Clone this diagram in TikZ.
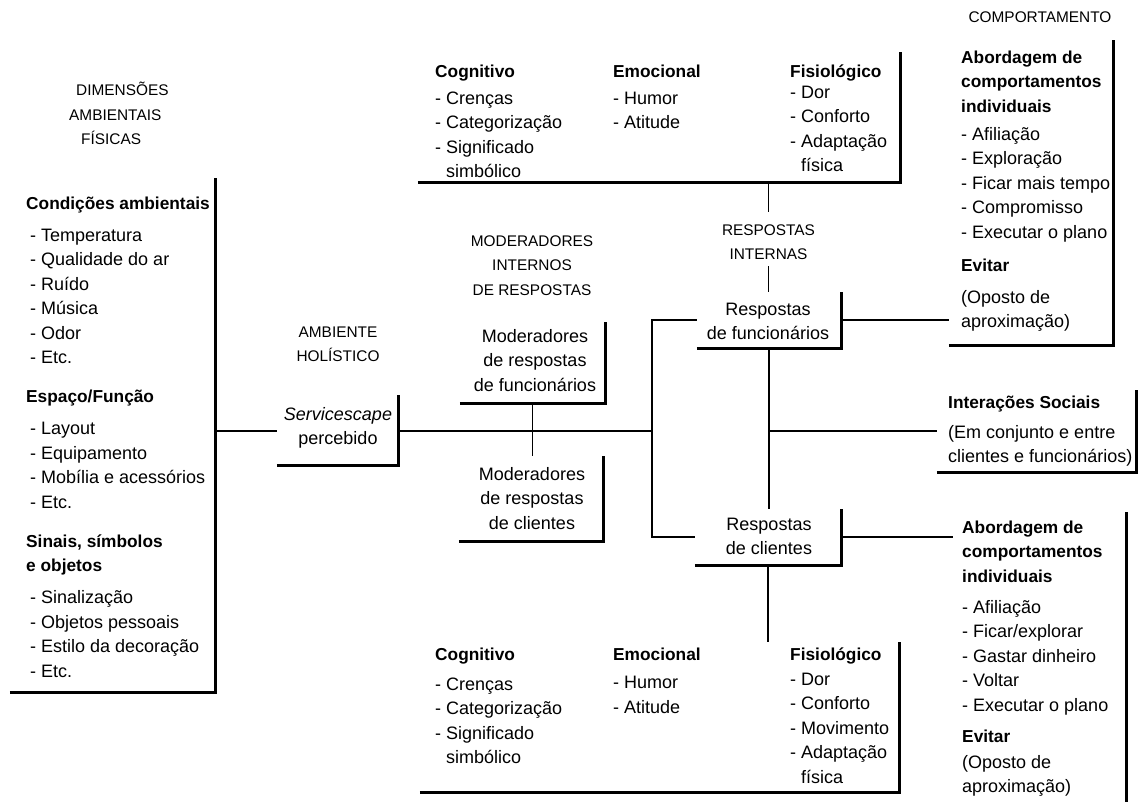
\documentclass[tikz,border=0pt]{standalone}
\usepackage{fontspec}
\setmainfont{Liberation Sans}
\usetikzlibrary{fit}
\newcommand\fl{\rule{0pt}{17pt}}
\newcommand\hb[1]{{\fontsize{17.3}{24.5}\selectfont\bfseries #1}}
\begin{document}
\begin{tikzpicture}[x=1pt,y=-1pt,
  txt/.style={inner sep=0pt, font=\fontsize{18}{24.5}\selectfont, align=left, anchor=north west},
  ctxt/.style={inner sep=0pt, font=\fontsize{18}{24.5}\selectfont, align=center, anchor=north},
  caplbl/.style={inner sep=0pt, font=\fontsize{15.4}{24.5}\selectfont, align=center, anchor=north},
  frm/.style={inner sep=0pt, draw=none},
  border/.style={line width=2.8pt, line join=miter, line cap=butt},
  conn/.style={line width=1.1pt}]
\useasboundingbox (0,0) rectangle (1138,802);

% ---------- frames (right and bottom edges) ----------
\node[frm, fit={(10,178) (215,692)}] (leftframe) {};
\node[frm, fit={(277,395) (398,465)}] (servframe) {};
\node[frm, fit={(460,322) (605,403)}] (modfframe) {};
\node[frm, fit={(459,456) (603,541)}] (modcframe) {};
\node[frm, fit={(697,292) (841,348)}] (rfframe) {};
\node[frm, fit={(695,509) (841,565)}] (rcframe) {};
\node[frm, fit={(418,52) (900,182)}] (topframe) {};
\node[frm, fit={(420,642) (899,792)}] (botframe) {};
\node[frm, fit={(949,40) (1113,345)}] (btopframe) {};
\node[frm, fit={(937,390) (1136,472)}] (socframe) {};
\node[frm, fit={(953,512) (1126,815)}] (bbotframe) {};
\foreach \f in {leftframe,servframe,modfframe,modcframe,rfframe,rcframe,topframe,botframe,btopframe,socframe,bbotframe}
  \draw[border] (\f.south west) -- (\f.south east) -- (\f.north east);

% ---------- labels ----------
\node[caplbl, align=left, anchor=north west] (dimlbl) at (69,78.5)
  {\fl\hspace*{7pt}DIMENSÕES\\AMBIENTAIS\\\hspace*{12pt}FÍSICAS};
\node[caplbl] (amblbl) at (338,320) {\fl AMBIENTE\\HOLÍSTICO};
\node[caplbl] (modlbl) at (532,229) {\fl MODERADORES\\INTERNOS\\DE RESPOSTAS};
\node[caplbl, inner ysep=6pt] (resint) at (768.5,212) {\fl RESPOSTAS\\INTERNAS};
\node[caplbl] (comlbl) at (1040,5.5) {\fl COMPORTAMENTO};

% ---------- left box ----------
\node[txt] (leftbox) at (26,192) {\fl\hb{Condições ambientais}\\[7.5pt]
\hspace*{4pt}- Temperatura\\
\hspace*{4pt}- Qualidade do ar\\
\hspace*{4pt}- Ruído\\
\hspace*{4pt}- Música\\
\hspace*{4pt}- Odor\\
\hspace*{4pt}- Etc.\\[14.5pt]
\hb{Espaço/Função}\\[7.5pt]
\hspace*{4pt}- Layout\\
\hspace*{4pt}- Equipamento\\
\hspace*{4pt}- Mobília e acessórios\\
\hspace*{4pt}- Etc.\\[14.5pt]
\hb{Sinais, símbolos}\\
\hb{e objetos}\\[7.5pt]
\hspace*{4pt}- Sinalização\\
\hspace*{4pt}- Objetos pessoais\\
\hspace*{4pt}- Estilo da decoração\\
\hspace*{4pt}- Etc.};

% ---------- middle texts ----------
\node[ctxt] (serv) at (338,403) {\fl\textit{Servicescape}\\percebido};
\node[ctxt] (modf) at (535,325) {\fl Moderadores\\de respostas\\de funcionários};
\node[ctxt] (modc) at (532,463) {\fl Moderadores\\de respostas\\de clientes};
\node[ctxt] (rf) at (768,298) {\fl Respostas\\de funcionários};
\node[ctxt] (rc) at (769,513) {\fl Respostas\\de clientes};

% ---------- top internal responses ----------
\node[txt] (tcog) at (435,60) {\fl\hb{Cognitivo}\\[2.5pt]- Crenças\\- Categorização\\- Significado\\\hspace*{11pt}simbólico};
\node[txt] (temo) at (613,60) {\fl\hb{Emocional}\\[2.5pt]- Humor\\- Atitude};
\node[txt] (tfis) at (790,60) {\fl\hb{Fisiológico}\\[-3.5pt]- Dor\\- Conforto\\- Adaptação\\\hspace*{11pt}física};

% ---------- bottom internal responses ----------
\node[txt] (bcog) at (435,643) {\fl\hb{Cognitivo}\\[5.5pt]- Crenças\\- Categorização\\- Significado\\\hspace*{11pt}simbólico};
\node[txt] (bemo) at (613,643) {\fl\hb{Emocional}\\[4pt]- Humor\\- Atitude};
\node[txt] (bfis) at (790,643) {\fl\hb{Fisiológico}\\[0.5pt]- Dor\\- Conforto\\- Movimento\\- Adaptação\\\hspace*{11pt}física};

% ---------- behaviour boxes ----------
\node[txt] (btop) at (961,46) {\fl\hb{Abordagem de}\\\hb{comportamentos}\\\hb{individuais}\\[3.5pt]
- Afiliação\\- Exploração\\- Ficar mais tempo\\- Compromisso\\- Executar o plano\\[8.5pt]
\hb{Evitar}\\[7.5pt](Oposto de\\aproximação)};
\node[txt] (soc) at (948,391) {\fl\hb{Interações Sociais}\\[5.5pt](Em conjunto e entre\\clientes e funcionários)};
\node[txt] (bbot) at (962,516) {\fl\hb{Abordagem de}\\\hb{comportamentos}\\\hb{individuais}\\[6.5pt]
- Afiliação\\- Ficar/explorar\\- Gastar dinheiro\\- Voltar\\- Executar o plano\\[6.5pt]
\hb{Evitar}\\[1.5pt](Oposto de\\aproximação)};

% ---------- connectors ----------
\coordinate (J) at (652,431);
\draw[conn] (leftframe.east |- J) -- (servframe.west |- J);
\draw[conn] (servframe.east |- J) -- (J);
\draw[conn] (rfframe.west) -| (J) |- (rcframe.west);
\draw[conn] (modfframe.south) -- (modfframe.south |- modcframe.north);
\draw[conn] (resint.north |- topframe.south) -- (resint.north);
\draw[conn] (resint.south) -- (resint.south |- rfframe.north);
\draw[conn] (rfframe.south) -- (rfframe.south |- rcframe.north);
\draw[conn] (rfframe.south |- socframe.west) -- (socframe.west);
\draw[conn] (rfframe.east) -- (rfframe.east -| btopframe.west);
\draw[conn] (rcframe.east) -- (rcframe.east -| bbotframe.west);
\draw[conn] (rcframe.south) -- (rcframe.south |- botframe.north);
\end{tikzpicture}
\end{document}
